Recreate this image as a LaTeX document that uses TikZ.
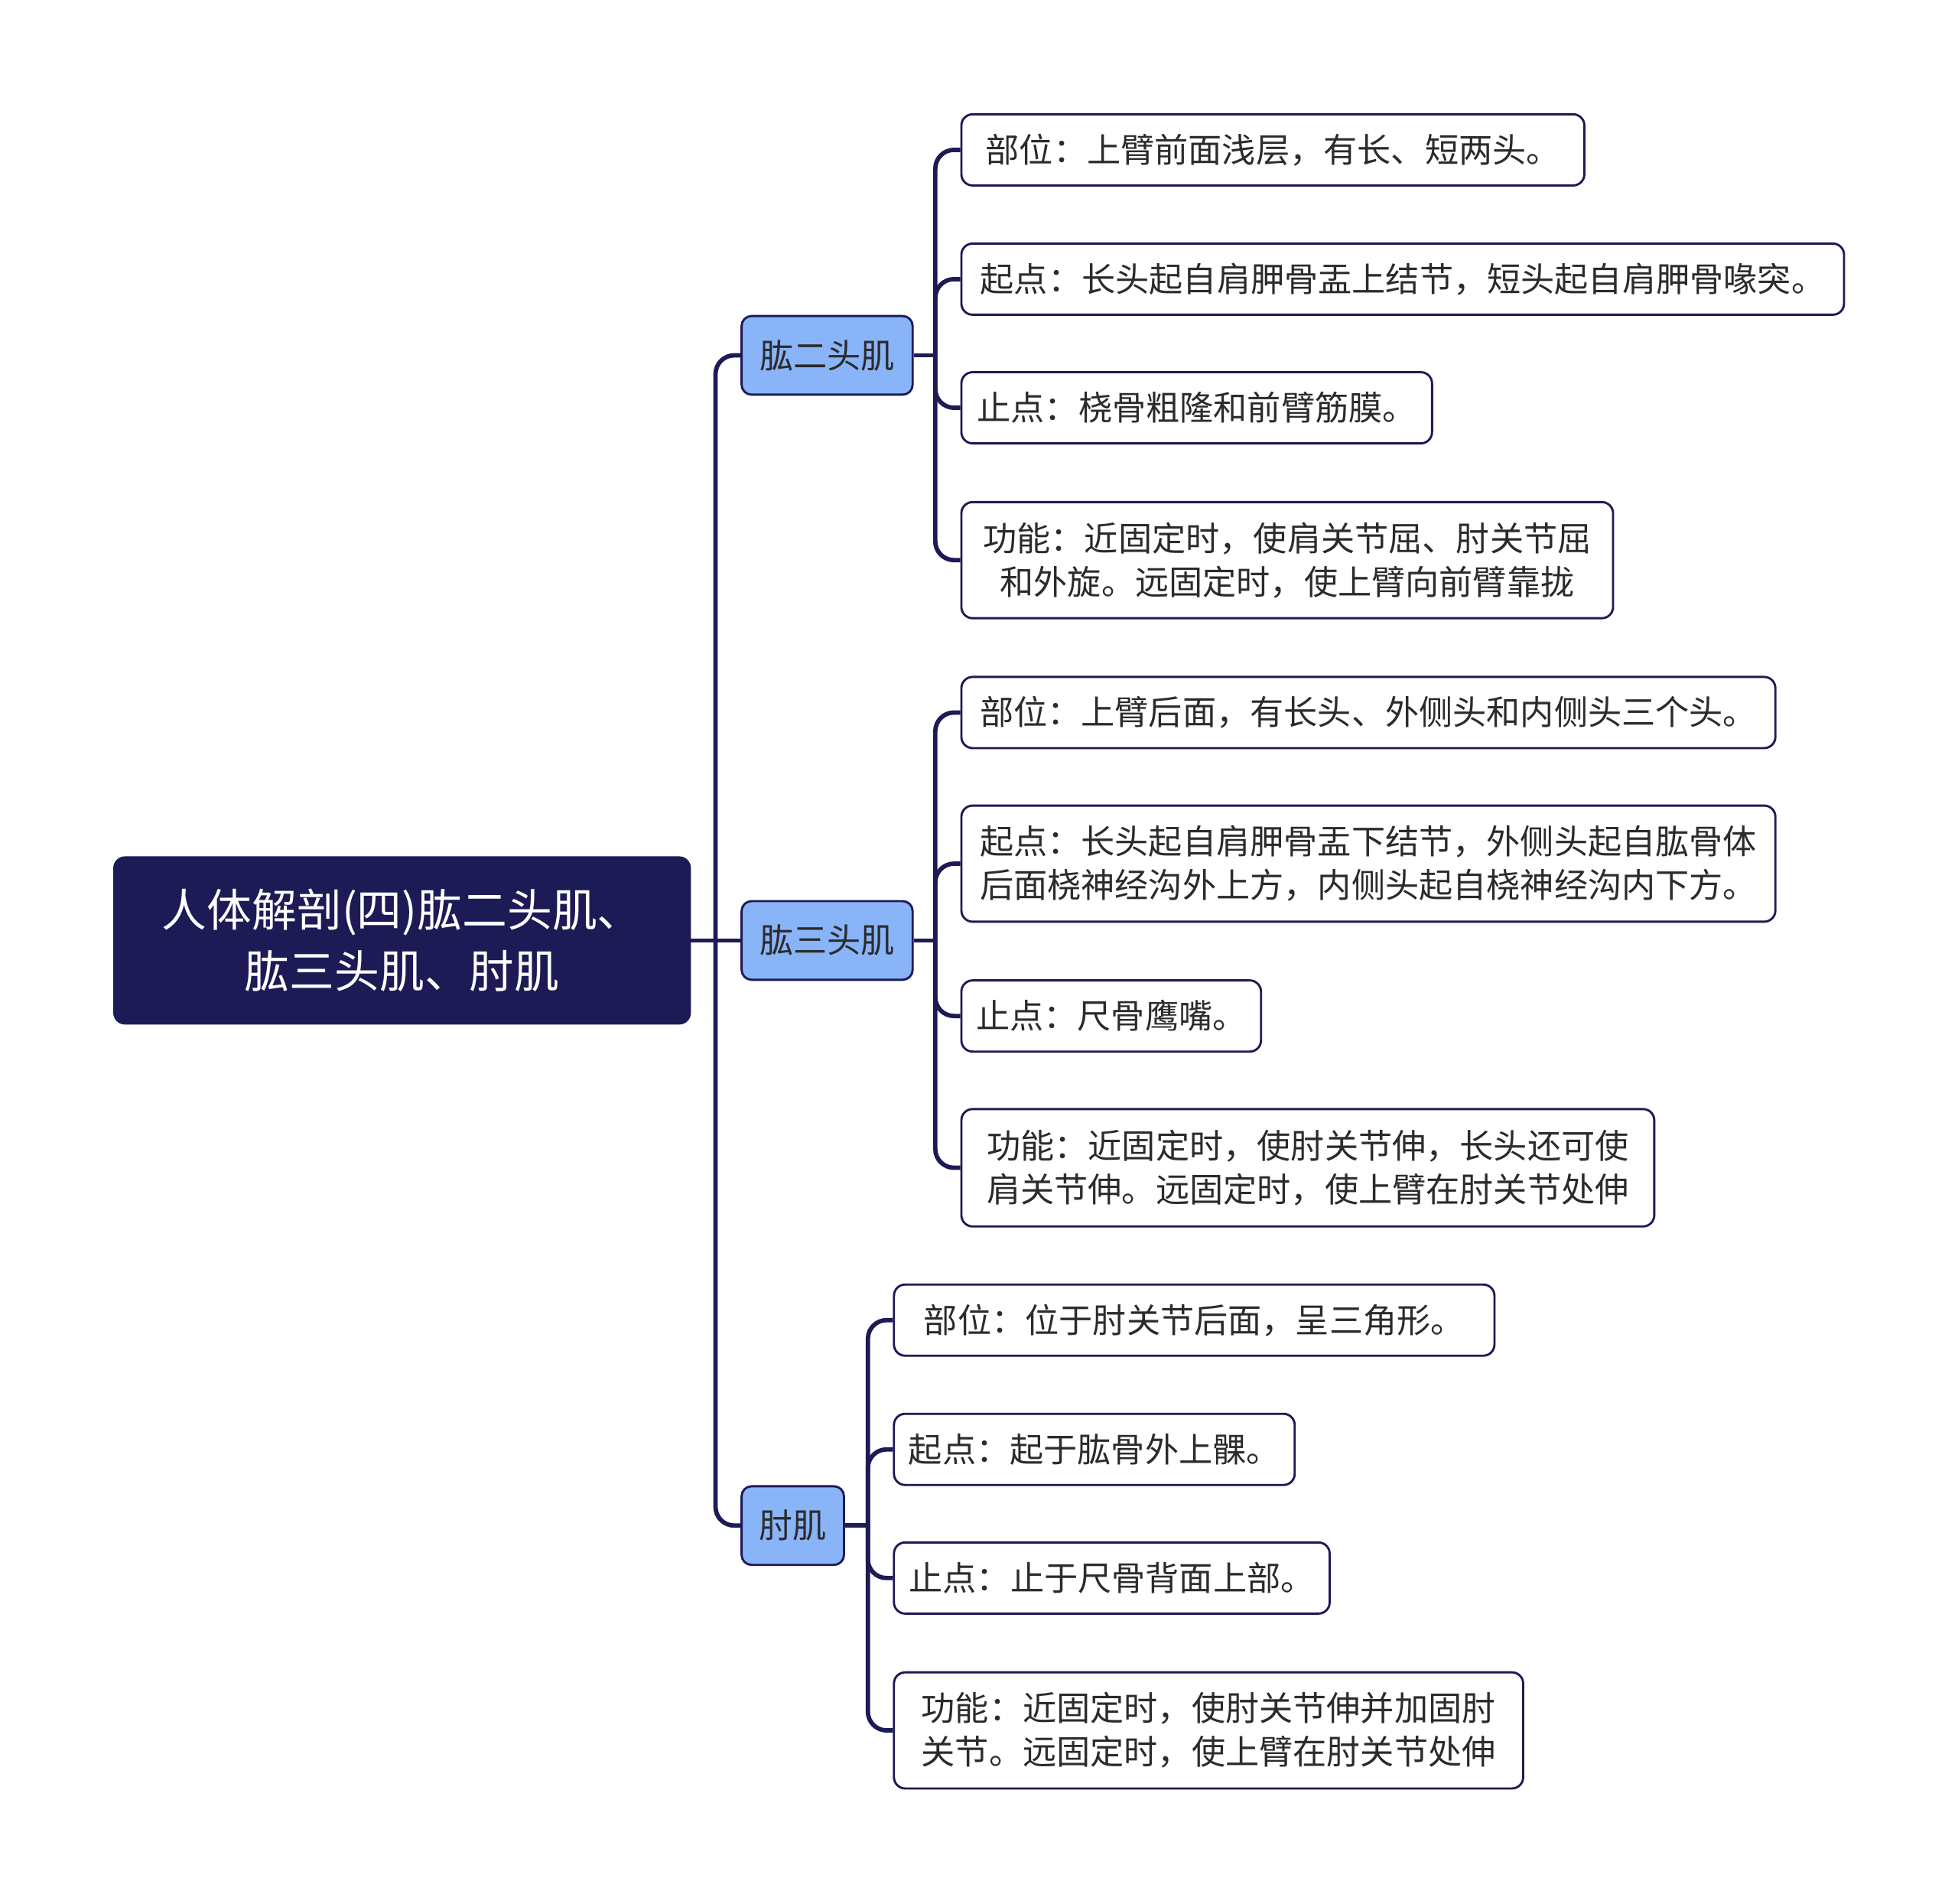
\documentclass[tikz,border=0pt]{standalone}
\usepackage{fontspec}
\setmainfont{Noto Sans CJK SC}
\usepackage{xcolor}
\usepackage{tikz}

\definecolor{navy}{HTML}{1D1B56}
\definecolor{lightblue}{HTML}{8AB4F8}
\definecolor{txt}{HTML}{2B2B2B}

\begin{document}
\begin{tikzpicture}[
    x=0.02cm, y=-0.02cm,
    root/.style={rectangle, rounded corners=0.18cm, fill=navy, draw=navy, text=white, font=\fontsize{20.5}{27.9}\selectfont, align=center, minimum width=9.24cm, minimum height=2.68cm},
    topic/.style={rectangle, rounded corners=0.16cm, fill=lightblue, draw=navy, line width=1pt, text=txt, font=\fontsize{15.4}{19.9}\selectfont, anchor=west, minimum height=1.26cm, inner xsep=0pt},
    leaf/.style={rectangle, rounded corners=0.18cm, fill=white, draw=navy, line width=1pt, text=txt, font=\fontsize{15.4}{19.9}\selectfont, align=center, anchor=west, minimum height=1.14cm, inner xsep=0pt},
    link/.style={draw=navy, line width=2pt},
    fork/.style={link, rounded corners=0.3cm}
]
\useasboundingbox (0,0) rectangle (1568,1524);

% Wurzel
\node[root] (root) at (322,753) {人体解剖(四)肱二头肌、\\肱三头肌、肘肌};

% Hauptthemen
\node[topic, minimum width=2.74cm] (biceps) at (593,284.5) {肱二头肌};
\node[topic, minimum width=2.74cm] (triceps) at (593,753) {肱三头肌};
\node[topic, minimum width=1.64cm] (anconeus) at (593,1221.5) {肘肌};

% Details Bizeps
\node[leaf, minimum width=9.98cm] (b1) at (769,120) {部位：上臂前面浅层，有长、短两头。};
\node[leaf, minimum width=14.14cm] (b2) at (769,223.5) {起点：长头起自肩胛骨盂上结节，短头起自肩胛骨喙突。};
\node[leaf, minimum width=7.54cm] (b3) at (769,326.5) {止点：桡骨粗隆和前臂筋膜。};
\node[leaf, minimum width=10.44cm, minimum height=1.86cm] (b4) at (769,448.5) {功能：近固定时，使肩关节屈、肘关节屈\\和外旋。远固定时，使上臂向前臂靠拢};

% Details Trizeps
\node[leaf, minimum width=13.04cm] (t1) at (769,570.5) {部位：上臂后面，有长头、外侧头和内侧头三个头。};
\node[leaf, minimum width=13.04cm, minimum height=1.86cm] (t2) at (769,691.5) {起点：长头起自肩胛骨盂下结节，外侧头起自肱骨体\\后面桡神经沟外上方，内侧头起自桡神经沟内下方。};
\node[leaf, minimum width=4.8cm] (t3) at (769,813.5) {止点：尺骨鹰嘴。};
\node[leaf, minimum width=11.1cm, minimum height=1.88cm] (t4) at (769,935) {功能：近固定时，使肘关节伸，长头还可使\\肩关节伸。远固定时，使上臂在肘关节处伸};

% Details Ankoneus
\node[leaf, minimum width=9.62cm] (a1) at (715,1057) {部位：位于肘关节后面，呈三角形。};
\node[leaf, minimum width=6.42cm] (a2) at (715,1160.5) {起点：起于肱骨外上髁。};
\node[leaf, minimum width=6.98cm] (a3) at (715,1263.5) {止点：止于尺骨背面上部。};
\node[leaf, minimum width=10.08cm, minimum height=1.86cm] (a4) at (715,1385.5) {功能：近固定时，使肘关节伸并加固肘\\关节。远固定时，使上臂在肘关节处伸};

% Verzweigungspunkte
\coordinate (jroot) at (573,753);
\coordinate (jbi) at (749,284.5);
\coordinate (jtri) at (749,753);
\coordinate (janc) at (695,1221.5);

% Verbindungen Wurzel
\draw[link] (root.east) -- (jroot);
\draw[fork] (jroot) |- (biceps.west);
\draw[fork] (jroot) -- (triceps.west);
\draw[fork] (jroot) |- (anconeus.west);

% Verbindungen Bizeps
\draw[link] (biceps.east) -- (jbi);
\foreach \n in {b1,b2,b3,b4}
    \draw[fork] (jbi) |- (\n.west);

% Verbindungen Trizeps
\draw[link] (triceps.east) -- (jtri);
\foreach \n in {t1,t2,t3,t4}
    \draw[fork] (jtri) |- (\n.west);

% Verbindungen Ankoneus
\draw[link] (anconeus.east) -- (janc);
\foreach \n in {a1,a2,a3,a4}
    \draw[fork] (janc) |- (\n.west);

\end{tikzpicture}
\end{document}
